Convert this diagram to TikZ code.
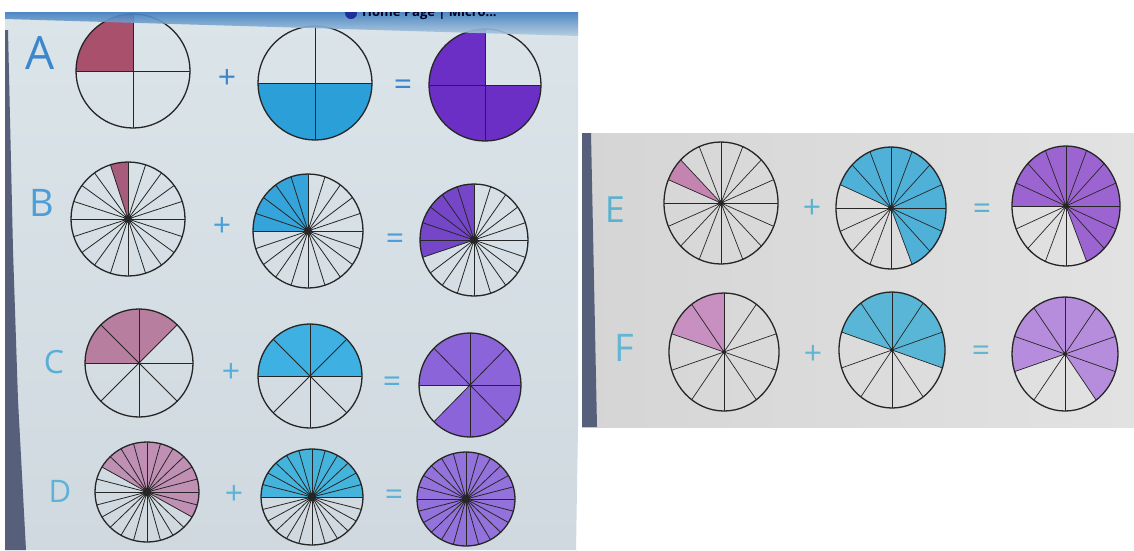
\documentclass[tikz,border=0pt]{standalone}
\usepackage{fontspec}
\setmainfont{Open Sans}
\definecolor{rimc}{HTML}{262626}
\definecolor{bgLt}{HTML}{DAE4E9}
\definecolor{bgLb}{HTML}{CFD9DF}
\definecolor{bgR}{HTML}{D5D5D5}
\definecolor{bgR2}{HTML}{E2E2E2}
\definecolor{bez}{HTML}{56607A}
\definecolor{barT}{HTML}{3F7FC0}
\definecolor{barB}{HTML}{B4CCDF}
\definecolor{icon}{HTML}{1E2E9A}
\definecolor{cA}{HTML}{3B86CC}
\definecolor{cB}{HTML}{4C9FD6}
\definecolor{cC}{HTML}{57AED8}
\definecolor{cD}{HTML}{5CB3D6}
\definecolor{cE}{HTML}{5BB2D0}
\definecolor{cF}{HTML}{62B6D2}
\definecolor{pA}{HTML}{A8506C}
\definecolor{pB}{HTML}{A85C7C}
\definecolor{pC}{HTML}{B87EA0}
\definecolor{pD}{HTML}{C090B4}
\definecolor{pE}{HTML}{C484B0}
\definecolor{pF}{HTML}{C890C0}
\definecolor{bA}{HTML}{2A9FD8}
\definecolor{bB}{HTML}{35A4DA}
\definecolor{bC}{HTML}{3FB0E2}
\definecolor{bD}{HTML}{45B4DC}
\definecolor{bE}{HTML}{4FB0D8}
\definecolor{bF}{HTML}{5AB6D6}
\definecolor{uA}{HTML}{6C2FC6}
\definecolor{uB}{HTML}{7646C8}
\definecolor{uC}{HTML}{8C64DA}
\definecolor{uD}{HTML}{9472DC}
\definecolor{uE}{HTML}{9C64D0}
\definecolor{uF}{HTML}{B68CDC}
\tikzset{
  rim/.style={draw=rimc, line width=1.3pt},
  spoke/.style={draw=rimc, line width=0.8pt},
  lab/.style={inner sep=0pt},
  op/.style={inner sep=0pt, font=\fontsize{32}{32}\selectfont},
  dotr/.store in=\dotr, dotr=0pt,
  soff/.store in=\soff, soff=0,
}
% #1 options, #2 cx, #3 cy, #4 rx, #5 ry, #6 slices, #7 from, #8 to, #9 colour
\newcommand\pie[9]{%
  \begin{scope}[shift={(#2,#3)}, x=#4pt, y=#5pt, #1]
    \fill[#9] (0,0) -- (#7:1) arc[start angle=#7, end angle=#8, radius=1] -- cycle;
    \foreach \k in {1,...,#6} \draw[spoke] (0,0) -- ({360/#6*\k+\soff}:1);
    \draw[rim] (0,0) circle[radius=1];
    \fill[rimc] (0,0) circle[radius=\dotr];
  \end{scope}}
\begin{document}
\begin{tikzpicture}[x=1pt, y=-1pt]
\useasboundingbox (0,0) rectangle (1134,550);
\fill[white] (0,0) rectangle (1134,550);
% left panel
\shade[top color=bgLt, bottom color=bgLb] (5,12) -- (578,12) -- (578,427) -- (576,550) -- (5,550) -- cycle;
\fill[bez] (5,30) -- (8,30) -- (13,250) -- (18,400) -- (26,550) -- (5,550) -- cycle;
% right panel
\shade[left color=bgR, right color=bgR2] (582,133) rectangle (1134,427);
\fill[bez] (582,133) -- (591,133) -- (597,427) -- (582,427) -- cycle;

% row A
\pie{}{133}{71}{57}{57}{4}{90}{180}{pA}
\pie{}{315}{83}{57}{57}{4}{180}{360}{bA}
\pie{}{485}{85}{56}{56}{4}{90}{360}{uA}
% row B
\pie{dotr=4pt}{128}{219}{57}{57}{20}{90}{108}{pB}
\pie{dotr=4pt}{308}{231}{55}{57}{20}{90}{180}{bB}
\pie{dotr=4pt}{474}{240}{54}{56}{20}{90}{198}{uB}
% row C
\pie{dotr=1.5pt}{139}{363}{54}{54}{8}{45}{180}{pC}
\pie{dotr=1.2pt}{310}{376}{52}{52}{8}{0}{180}{bC}
\pie{dotr=1.2pt}{470}{385}{51}{52}{8}{225}{540}{uC}
% row D
\pie{dotr=4.5pt}{147}{492}{52}{50}{24}{-30}{150}{pD}
\pie{dotr=4.5pt}{312}{497}{51}{48}{24}{0}{180}{bD}
\pie{dotr=4.5pt}{466}{499}{49}{47}{24}{0}{360}{uD}
% row E
\pie{dotr=3pt, spoke/.append style={line width=0.7pt}}{721}{203}{57}{61}{16}{135}{157.5}{pE}
\pie{dotr=3pt, spoke/.append style={line width=0.7pt}}{891}{208}{55}{61}{16}{-67.5}{157.5}{bE}
\pie{dotr=3pt, spoke/.append style={line width=0.7pt}}{1066}{206}{54}{60}{16}{-67.5}{180}{uE}
% row F
\pie{dotr=2pt, soff=18, spoke/.append style={line width=0.7pt}}{724}{352}{55}{59}{10}{90}{162}{pF}
\pie{dotr=2pt, soff=18, spoke/.append style={line width=0.7pt}}{892}{350}{53}{58}{10}{-18}{162}{bF}
\pie{dotr=2pt, soff=18, spoke/.append style={line width=0.7pt}}{1065}{354}{53}{57}{10}{-54}{198}{uF}

% browser bar
\shade[top color=barT, bottom color=barB, opacity=0.9] (5,12) -- (578,12) -- (578,36) -- (5,19) -- cycle;
\begin{scope}
  \clip (5,12) rectangle (578,40);
  \fill[icon] (351,13) circle[radius=6pt];
  \node[anchor=west, inner sep=0pt, text=black!85!blue, font=\fontsize{13}{13}\selectfont\bfseries] (tab) at (362,13) {Home Page | Micro...};
\end{scope}

% labels
\node[lab, text=cA, font=\fontsize{46}{46}\selectfont] (lA) at (40,53) {A};
\node[lab, text=cB, font=\fontsize{38}{38}\selectfont] (lB) at (42,203) {B};
\node[lab, text=cC, font=\fontsize{32}{32}\selectfont] (lC) at (54,362) {C};
\node[lab, text=cD, font=\fontsize{31}{31}\selectfont] (lD) at (60,491) {D};
\node[lab, text=cE, font=\fontsize{36}{36}\selectfont] (lE) at (615,210) {E};
\node[lab, text=cF, font=\fontsize{38}{38}\selectfont] (lF) at (624,348) {F};
% operators
\node[op, text=cA] (plA) at (227,79) {+};
\node[op, text=cA] (eqA) at (403,88) {=};
\node[op, text=cB] (plB) at (222,227) {+};
\node[op, text=cB] (eqB) at (395,242) {=};
\node[op, text=cC] (plC) at (231,373) {+};
\node[op, text=cC] (eqC) at (392,385) {=};
\node[op, text=cD] (plD) at (234,495) {+};
\node[op, text=cD] (eqD) at (394,498) {=};
\node[op, text=cE] (plE) at (812,209) {+};
\node[op, text=cE] (eqE) at (982,212) {=};
\node[op, text=cF] (plF) at (813,355) {+};
\node[op, text=cF] (eqF) at (981,354) {=};
\end{tikzpicture}
\end{document}
